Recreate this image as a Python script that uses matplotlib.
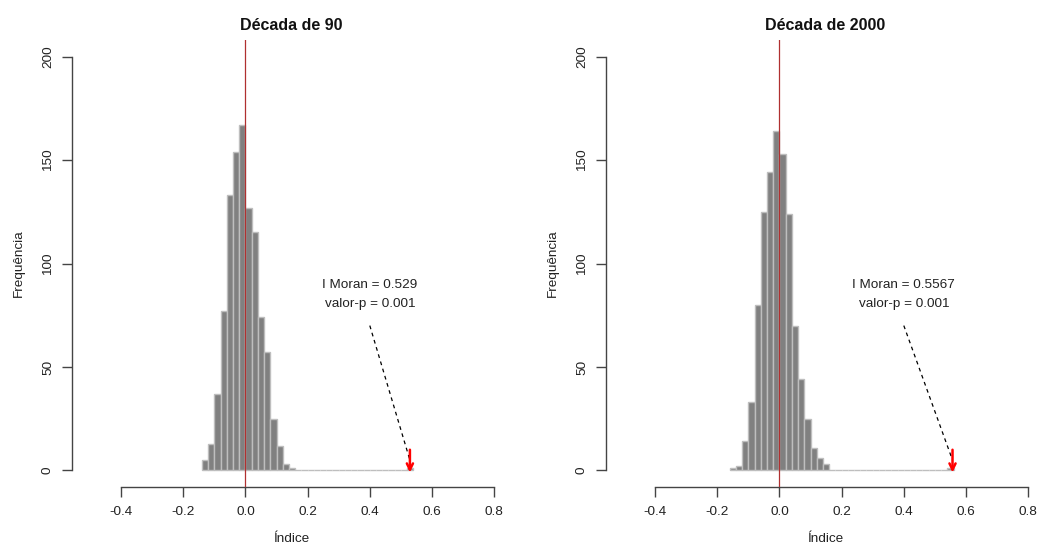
import matplotlib
matplotlib.use("Agg")
import matplotlib.pyplot as plt
import numpy as np

plt.rcParams['font.family'] = ['Liberation Sans', 'DejaVu Sans']

# permutation histograms (bin width 0.02), counts
bin_w = 0.02
start_90 = -0.14
counts_90 = [5, 13, 37, 77, 133, 154, 167, 127, 115, 74, 57, 25, 12, 3, 1] + [0] * 18 + [1]
start_00 = -0.16
counts_00 = [1, 2, 14, 33, 80, 125, 144, 164, 153, 124, 70, 44, 25, 11, 6, 3] + [0] * 19 + [1]

titles = ["Década de 90", "Década de 2000"]
moran_i = [0.529, 0.5567]
moran_lbl = ["0.529", "0.5567"]
p_vals = ["0.001", "0.001"]
xticks = [-0.4, -0.2, 0.0, 0.2, 0.4, 0.6, 0.8]
yticks = [0, 50, 100, 150, 200]

W, H = 1039, 550
fig = plt.figure(figsize=(W / 100, H / 100), dpi=100)

txt = '#222222'
axcol = '#444444'

def px(l, b, r, t):
    return [l / W, (H - b) / H, (r - l) / W, (b - t) / H]

panels = [(start_90, counts_90), (start_00, counts_00)]
for k, (st, cnt) in enumerate(panels):
    off = 534 * k
    ax = fig.add_axes(px(72 + off, 487, 510 + off, 40))
    edges = st + bin_w * np.arange(len(cnt))
    ax.bar(edges, cnt, width=bin_w, align='edge', color='#808080',
           edgecolor='#BEBEBE', linewidth=1, zorder=2)
    ax.axvline(0, color='#b03030', lw=0.9, zorder=3)
    ax.set_xlim(-0.558, 0.851)
    ax.set_ylim(-8, 208)

    for s in ['top', 'right']:
        ax.spines[s].set_visible(False)
    ax.spines['bottom'].set_bounds(-0.4, 0.8)
    ax.spines['left'].set_bounds(0, 200)
    for s in ['bottom', 'left']:
        ax.spines[s].set_color(axcol)
        ax.spines[s].set_linewidth(1)

    ax.set_xticks(xticks)
    ax.set_xticklabels([f"{v:.1f}" for v in xticks])
    ax.set_yticks(yticks)
    ax.set_yticklabels([str(v) for v in yticks], rotation=90, va='center')
    ax.tick_params(axis='both', length=7, width=1, color=axcol,
                   labelsize=9.7, labelcolor=txt)
    ax.tick_params(axis='x', pad=7)
    ax.tick_params(axis='y', pad=6)

    ax.set_title(titles[k], fontsize=11.5, fontweight='bold', pad=7, color='#111111')
    ax.set_xlabel("Índice", fontsize=9.7, color=txt)
    ax.set_ylabel("Frequência", fontsize=9.7, color=txt, labelpad=12)
    ax.xaxis.set_label_coords(0.5, -0.103)

    ax.text(0.4, 89.5, f"I Moran = {moran_lbl[k]}", ha='center', va='center',
            fontsize=9.7, color=txt)
    ax.text(0.4, 80.5, f"valor-p = {p_vals[k]}", ha='center', va='center',
            fontsize=9.7, color=txt)
    ax.plot([0.4, moran_i[k]], [70, 5], ls=(0, (3, 3)), color='black', lw=0.9, zorder=4)
    ax.annotate("", xy=(moran_i[k], -1), xytext=(moran_i[k], 10),
                arrowprops=dict(arrowstyle='->,head_length=0.45,head_width=0.22',
                                color='red', lw=1.8, shrinkA=0, shrinkB=0),
                zorder=5)

fig.savefig("out.png", dpi=100)
